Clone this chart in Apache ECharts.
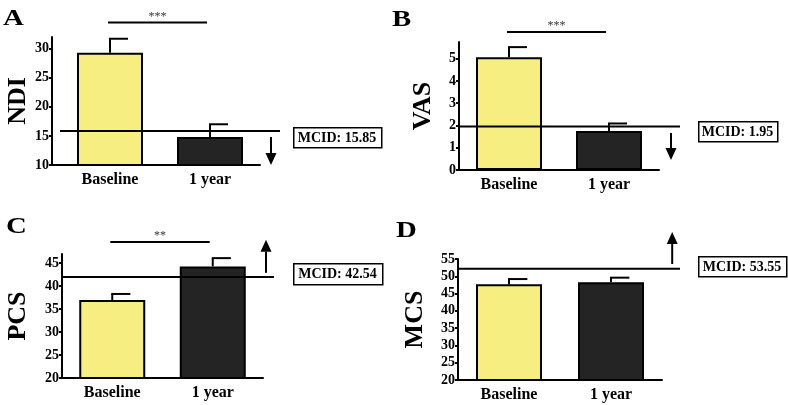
<!DOCTYPE html>
<html><head><meta charset="utf-8">
<script src="https://cdn.jsdelivr.net/npm/echarts@6/dist/echarts.min.js"></script>
<style>html,body{margin:0;padding:0;background:#fff}#c{width:788px;height:405px}</style>
</head><body><div id="c"></div>
<script>
// ---------- data ----------
const categories = ['Baseline', '1 year'];
const panelLetters = ['A', 'B', 'C', 'D'];
const yNames = ['NDI', 'VAS', 'PCS', 'MCS'];
const ndiMean = [29.3, 14.8];
const ndiUpper = [31.7, 17.0];
const vasMean = [5.07, 1.75];
const vasUpper = [5.52, 2.09];
const pcsMean = [37.0, 44.3];
const pcsUpper = [38.3, 46.1];
const mcsMean = [47.7, 48.3];
const mcsUpper = [49.2, 49.6];
const mcidLabels = ['MCID: 15.85', 'MCID: 1.95', 'MCID: 42.54', 'MCID: 53.55'];
const mcidLine = [15.85, 1.95, 42.0, 52.2];
const sigText = ['***', '***', '**', ''];
const sigLevel = [34.5, 6.2, 49.6, null];
const arrowFrom = [14.8, 1.66, 42.9, 53.55];
const arrowTo = [10, 0.45, 50.1, 62.8];
const yMin = [10, 0, 20, 20];
const yMax = [32, 5.75, 47, 55];
const yTicks = [
  [10, 15, 20, 25, 30],
  [0, 1, 2, 3, 4, 5],
  [20, 25, 30, 35, 40, 45],
  [20, 25, 30, 35, 40, 45, 50, 55]
];

const means = [ndiMean, vasMean, pcsMean, mcsMean];
const uppers = [ndiUpper, vasUpper, pcsUpper, mcsUpper];

// ---------- layout ----------
const FONT = '"Liberation Serif", "Times New Roman", serif';
const grids = [
  {left: 60, top: 37, width: 200, height: 128},
  {left: 459, top: 42, width: 200, height: 128},
  {left: 62, top: 254, width: 201, height: 124},
  {left: 458, top: 259, width: 204, height: 121}
];
const yOffset = [8, 0, 0, 0];
const nameGaps = [21, 23, 31, 30];
const lineExt = [20, 21, 11, 18];
const arrowBand = [0.61, 0.62, 0.53, 0.60];
const boxes = [
  {x: 293, y: 127, w: 88, h: 20},
  {x: 698, y: 121, w: 79, h: 20},
  {x: 293, y: 263, w: 89, h: 21},
  {x: 698, y: 256, w: 88, h: 20}
];
const letterPos = [[3, 7], [392, 8], [6, 215], [396, 219]];
const barColors = ['#F7EE82', '#242424'];

const chart = echarts.init(document.getElementById('c'), null, {renderer: 'canvas'});

const xAxes = [], yAxes = [], series = [], graphics = [];
for (let i = 0; i < 4; i++) {
  xAxes.push({
    type: 'category', gridIndex: i, data: categories,
    axisLine: {lineStyle: {color: '#000', width: 2}},
    axisTick: {alignWithLabel: true, length: 4, lineStyle: {color: '#000', width: 2}},
    axisLabel: {color: '#000', fontFamily: FONT, fontWeight: 'bold', fontSize: 16, margin: 7},
    splitLine: {show: false}
  });
  yAxes.push({
    type: 'value', gridIndex: i, min: yMin[i], max: yMax[i], interval: i === 1 ? 1 : 5,
    offset: yOffset[i],
    name: yNames[i], nameLocation: 'middle', nameGap: nameGaps[i],
    nameTextStyle: {color: '#000', fontFamily: FONT, fontWeight: 'bold', fontSize: 26},
    axisLine: {show: true, lineStyle: {color: '#000', width: 2}},
    axisTick: {show: true, length: 3, customValues: yTicks[i], lineStyle: {color: '#000', width: 2}},
    axisLabel: {color: '#000', fontFamily: FONT, fontWeight: 'bold', fontSize: 14, margin: 3, customValues: yTicks[i]},
    splitLine: {show: false}
  });
  series.push({
    type: 'bar', xAxisIndex: i, yAxisIndex: i, barWidth: 66,
    data: means[i].map((v, k) => ({value: v, itemStyle: {color: barColors[k]}})),
    itemStyle: {borderColor: '#000', borderWidth: 2},
    silent: true, z: 2
  });
  series.push({
    type: 'custom', xAxisIndex: i, yAxisIndex: i, silent: true, z: 3,
    data: means[i].map((v, k) => [k, v, uppers[i][k]]),
    renderItem: function (params, api) {
      const x = api.value(0), m = api.value(1), u = api.value(2);
      const p0 = api.coord([x, m]);
      const p1 = api.coord([x, u]);
      const cap = api.size([1, 0])[0] * 0.18;
      return {type: 'group', children: [
        {type: 'line', shape: {x1: p0[0], y1: p0[1], x2: p1[0], y2: p1[1]}, style: {stroke: '#000', lineWidth: 2}},
        {type: 'line', shape: {x1: p1[0] - 1, y1: p1[1], x2: p1[0] + cap, y2: p1[1]}, style: {stroke: '#000', lineWidth: 2}}
      ]};
    }
  });
  const idx = i;
  series.push({
    type: 'custom', xAxisIndex: i, yAxisIndex: i, silent: true, clip: false, z: 4,
    data: [[0, yMin[i]]],
    renderItem: function (params, api) {
      const bw = api.size([1, 0])[0];
      const start = api.coord([0, mcidLine[idx]])[0] - bw / 2;
      const end = api.coord([1, mcidLine[idx]])[0] + bw / 2;
      const ly = api.coord([0, mcidLine[idx]])[1];
      const children = [];
      // join the x axis line to an offset y axis
      if (yOffset[idx] > 0) {
        const by = api.coord([0, yMin[idx]])[1];
        children.push({type: 'line', shape: {x1: start - yOffset[idx], y1: by, x2: start, y2: by}, style: {stroke: '#000', lineWidth: 2}});
      }
      children.push({type: 'line', shape: {x1: start, y1: ly, x2: end + lineExt[idx], y2: ly}, style: {stroke: '#000', lineWidth: 2}});
      // arrow
      const ax = api.coord([1, 0])[0] + bw * arrowBand[idx];
      const y0 = api.coord([1, arrowFrom[idx]])[1];
      const y1 = api.coord([1, arrowTo[idx]])[1];
      const dir = y1 > y0 ? 1 : -1;
      const head = 12;
      children.push({type: 'line', shape: {x1: ax, y1: y0, x2: ax, y2: y1 - dir * head}, style: {stroke: '#000', lineWidth: 2}});
      children.push({type: 'polygon', shape: {points: [[ax - 5.5, y1 - dir * head], [ax + 5.5, y1 - dir * head], [ax, y1]]}, style: {fill: '#000'}});
      // significance bar
      if (sigLevel[idx] !== null) {
        const sy = api.coord([0, sigLevel[idx]])[1];
        const sx0 = api.coord([0, sigLevel[idx]])[0] - 2;
        const sx1 = api.coord([1, sigLevel[idx]])[0] - 3;
        children.push({type: 'line', shape: {x1: sx0, y1: sy, x2: sx1, y2: sy}, style: {stroke: '#000', lineWidth: 2}});
        children.push({type: 'text', x: (sx0 + sx1) / 2, y: sy - 6, style: {text: sigText[idx], fill: '#333', font: '12px ' + FONT, align: 'center', verticalAlign: 'middle'}});
      }
      return {type: 'group', children: children};
    }
  });
  const b = boxes[i];
  graphics.push({type: 'rect', left: b.x, top: b.y, shape: {width: b.w, height: b.h}, style: {fill: '#fff', stroke: '#000', lineWidth: 1.5}, z: 10});
  graphics.push({type: 'text', x: b.x + b.w / 2, y: b.y + b.h / 2 + 1, style: {text: mcidLabels[i], fill: '#000', font: 'bold 14px ' + FONT, align: 'center', verticalAlign: 'middle'}, z: 11});
  graphics.push({type: 'text', left: letterPos[i][0], top: letterPos[i][1], scaleX: 1.2, style: {text: panelLetters[i], fill: '#000', font: 'bold 24px ' + FONT}, z: 11});
}

chart.setOption({
  animation: false,
  backgroundColor: '#fff',
  grid: grids,
  xAxis: xAxes,
  yAxis: yAxes,
  series: series,
  graphic: graphics
});
</script>
</body></html>
